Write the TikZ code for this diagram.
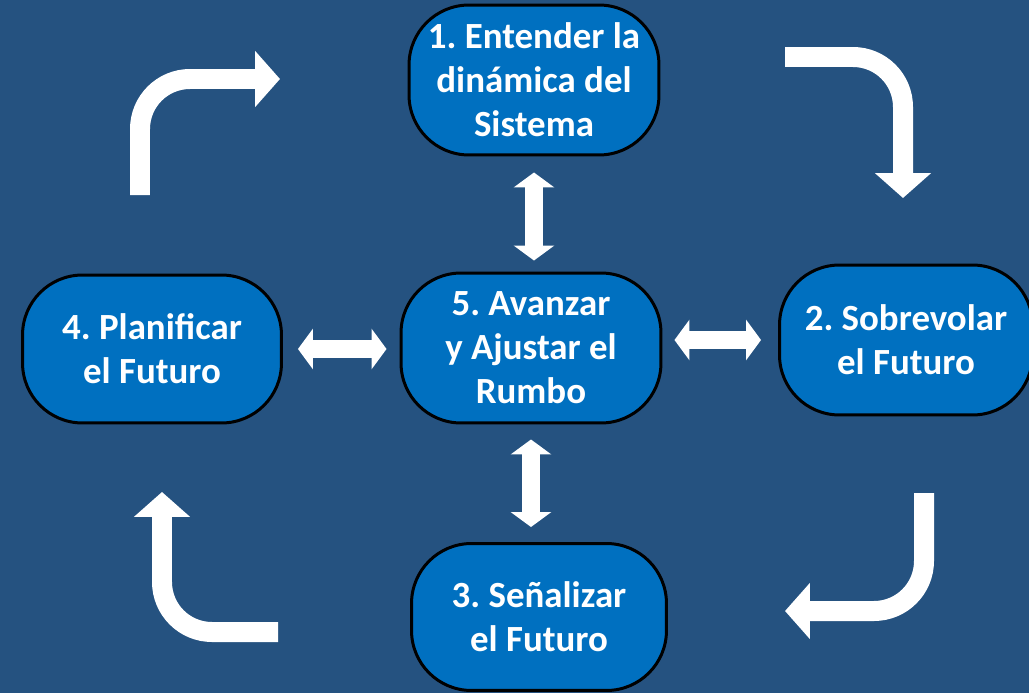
\documentclass[tikz,border=0pt]{standalone}
\usepackage{fontspec}
\setmainfont{Carlito}
\usetikzlibrary{arrows.meta}
\definecolor{fondo}{RGB}{37,82,128}
\definecolor{caja}{RGB}{0,112,192}
\tikzset{
paso/.style={draw=black, line width=0.06cm, fill=caja, rounded corners=1.2cm,
  text=white, align=center, inner sep=0pt,
  font=\fontsize{21}{25}\selectfont\bfseries\frenchspacing},
giro/.style={draw=white, line width=0.4cm, rounded corners=1cm,
  -{Triangle[width=1.1cm, length=0.5cm]}},
doble/.style={draw=white, line width=0.36cm,
  {Triangle[width=0.8cm, length=0.3cm]}-{Triangle[width=0.8cm, length=0.3cm]}}
}

\begin{document}
\begin{tikzpicture}[x=0.02cm, y=-0.02cm]
\fill[fondo] (0,0) rectangle (1029,693);
\useasboundingbox (0,0) rectangle (1029,693);
\node[paso, minimum width=5cm, minimum height=3cm] (entender) at (534,80) {1. Entender la\\dinámica del\\Sistema};
\node[paso, minimum width=5.2cm, minimum height=3cm] (avanzar) at (531,348) {5. Avanzar\\y Ajustar el\\Rumbo};
\node[paso, minimum width=5.18cm, minimum height=2.96cm] (planificar) at (152,349) {4. Planificar\\el Futuro};
\node[paso, minimum width=5.06cm, minimum height=3cm] (sobrevolar) at (906,340) {2. Sobrevolar\\el Futuro};
\node[paso, minimum width=5.1cm, minimum height=2.94cm] (senalizar) at (539,617) {3. Señalizar\\el Futuro};
\draw[doble, shorten <=0.32cm, shorten >=0.22cm] (entender.south) -- (entender.south |- avanzar.north);
\draw[doble, shorten <=0.3cm, shorten >=0.26cm] (planificar.east) -- (planificar.east -| avanzar.west);
\draw[doble, shorten <=0.24cm, shorten >=0.34cm] (avanzar.east |- sobrevolar) -- (sobrevolar.west);
\draw[doble, shorten <=0.3cm, shorten >=0.3cm] (avanzar.south) -- (avanzar.south |- senalizar.north);
\draw[giro] (140,195) -- (140,79) -- (280,79);
\draw[giro] (785,57) -- (903,57) -- (903,198);
\draw[giro] (924,493) -- (924,611) -- (785,611);
\draw[giro] (278,632) -- (162,632) -- (162,492);
\end{tikzpicture}
\end{document}
